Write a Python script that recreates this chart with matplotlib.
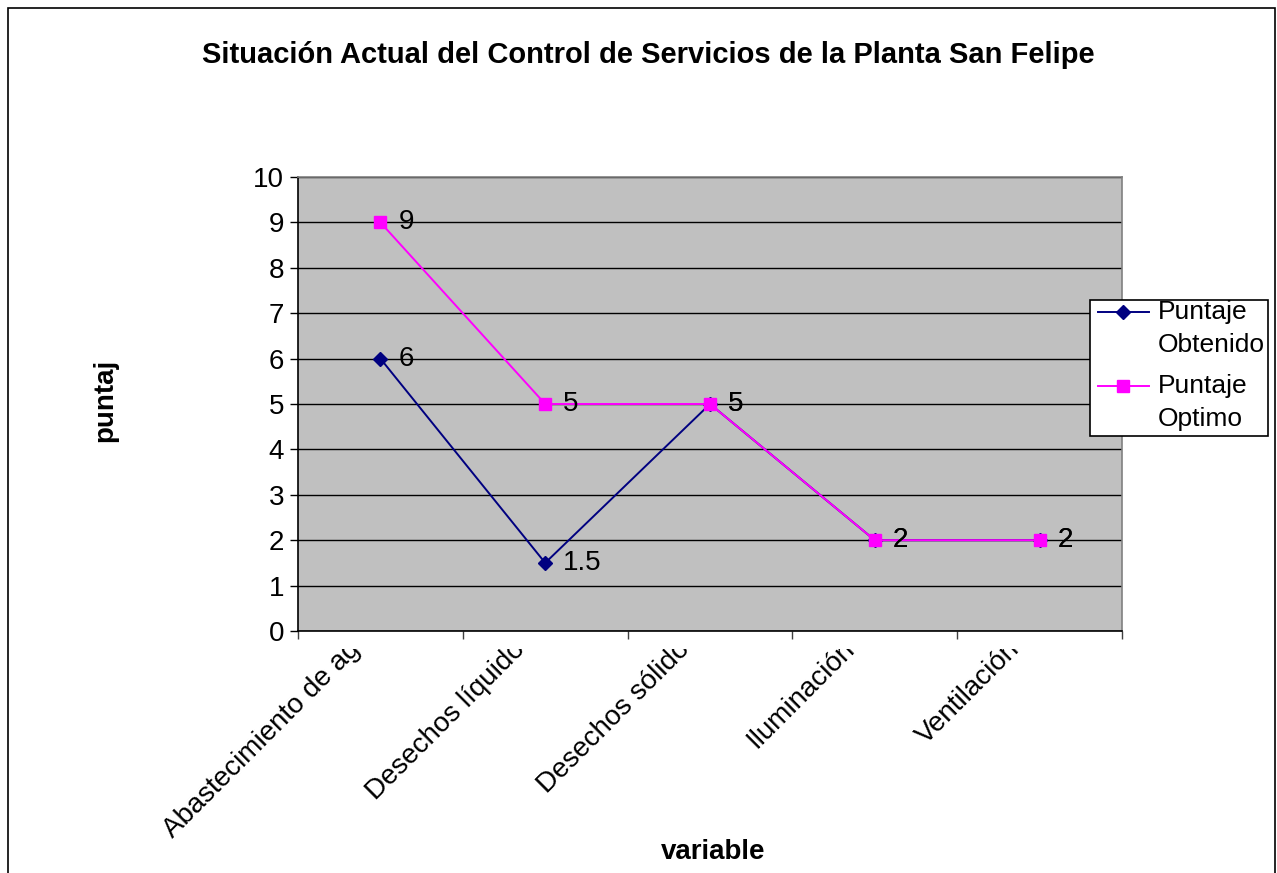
import numpy as np
import matplotlib
matplotlib.use("Agg")
import matplotlib.pyplot as plt
from matplotlib.lines import Line2D
from matplotlib.patches import Rectangle
from matplotlib.transforms import Bbox, TransformedBbox, blended_transform_factory, offset_copy

plt.rcParams['font.family'] = ['Liberation Sans', 'DejaVu Sans']

# ---- data ----
categories = ["Abastecimiento de ag", "Desechos líquido", "Desechos sólido",
              "Iluminación", "Ventilación"]
obtenido = [6, 1.5, 5, 2, 2]
optimo = [9, 5, 5, 2, 2]
series_names = ["Puntaje\nObtenido", "Puntaje\nOptimo"]
y_ticks = list(range(0, 11))

title = "Situación Actual del Control de Servicios de la Planta San Felipe"
x_title = "variable"
y_title = "puntaj"

NAVY = "#000080"
MAGENTA = "#FF00FF"

W, H = 1277, 873
fig = plt.figure(figsize=(W / 100, H / 100), dpi=100)
fig.patch.set_facecolor("white")


def fx(px):
    return px / W


def fy(py):
    return 1 - py / H


# outer chart frame
fig.add_artist(Rectangle((fx(8), fy(880)), fx(1275) - fx(8), fy(8) - fy(880),
                         transform=fig.transFigure, fill=False,
                         edgecolor="black", lw=1.2, clip_on=False))

ax = fig.add_axes([fx(298), fy(631), fx(1122) - fx(298), fy(177) - fy(631)])
ax.set_facecolor("#C0C0C0")

x = np.arange(len(categories))
ax.set_xlim(-0.5, len(categories) - 0.5)
ax.set_ylim(0, 10)
ax.set_yticks(y_ticks)
ax.set_yticklabels([str(t) for t in y_ticks])
ax.yaxis.grid(True, color="black", lw=1.0)
ax.set_axisbelow(True)

ax.set_xticks(np.arange(-0.5, len(categories), 1.0))
ax.set_xticklabels([])

for side in ("top", "right"):
    ax.spines[side].set_color("#808080")
    ax.spines[side].set_linewidth(1.2)
for side in ("left", "bottom"):
    ax.spines[side].set_color("black")
    ax.spines[side].set_linewidth(1.2)

ax.tick_params(axis="y", direction="out", length=6, width=1, color="black",
               labelsize=20, pad=4)
ax.tick_params(axis="x", direction="out", length=6, width=1, color="#404040")

ax.plot(x, obtenido, color=NAVY, lw=1.4, marker="D", ms=7,
        markerfacecolor=NAVY, markeredgecolor=NAVY, zorder=3)
ax.plot(x, optimo, color=MAGENTA, lw=1.4, marker="s", ms=8,
        markerfacecolor=MAGENTA, markeredgecolor=MAGENTA, zorder=4)

for xi, v in zip(x, obtenido):
    ax.annotate(f"{v:g}", (xi, v), xytext=(13, 0), textcoords="offset points",
                ha="left", va="center", fontsize=20, color="black", zorder=5)
for xi, v in zip(x, optimo):
    ax.annotate(f"{v:g}", (xi, v), xytext=(13, 0), textcoords="offset points",
                ha="left", va="center", fontsize=20, color="black", zorder=5)

# rotated category labels, clipped just below the axis
clip = TransformedBbox(Bbox.from_extents(0, 0, 1, fy(649)), fig.transFigure)
lab_tr = offset_copy(blended_transform_factory(ax.transData, fig.transFigure),
                     fig=fig, x=-33, y=0, units="dots")
for xi, name in zip(x, categories):
    t = fig.text(xi, fy(636), name, transform=lab_tr, rotation=45,
                 rotation_mode="anchor", ha="right", va="top", fontsize=20)
    t.set_clip_box(clip)
    t.set_clip_on(True)

fig.text(fx(648), fy(55), title, ha="center", va="center", fontsize=21,
         fontweight="bold")
fig.text(fx(713), fy(852), x_title, ha="center", va="center", fontsize=20,
         fontweight="bold")
fig.text(fx(105), fy(400), y_title, ha="center", va="center", fontsize=20,
         fontweight="bold", rotation=90)

# legend
fig.add_artist(Rectangle((fx(1090), fy(436)), fx(1268) - fx(1090), fy(300) - fy(436),
                         transform=fig.transFigure, facecolor="white",
                         edgecolor="black", lw=1.2, zorder=6))
legend_rows = [(312, NAVY, "D", 7), (386, MAGENTA, "s", 8)]
for (ly, col, mk, ms), name in zip(legend_rows, series_names):
    fig.add_artist(Line2D([fx(1098), fx(1149)], [fy(ly), fy(ly)],
                          transform=fig.transFigure, color=col, lw=1.4, zorder=7))
    fig.add_artist(Line2D([fx(1123)], [fy(ly)], transform=fig.transFigure,
                          marker=mk, ms=ms, color=col, lw=0, zorder=8))
    fig.text(fx(1158), fy(ly + 16.5), name, ha="left", va="center", fontsize=19,
             linespacing=1.45, zorder=8)

fig.savefig("out.png", dpi=100, facecolor="white")
